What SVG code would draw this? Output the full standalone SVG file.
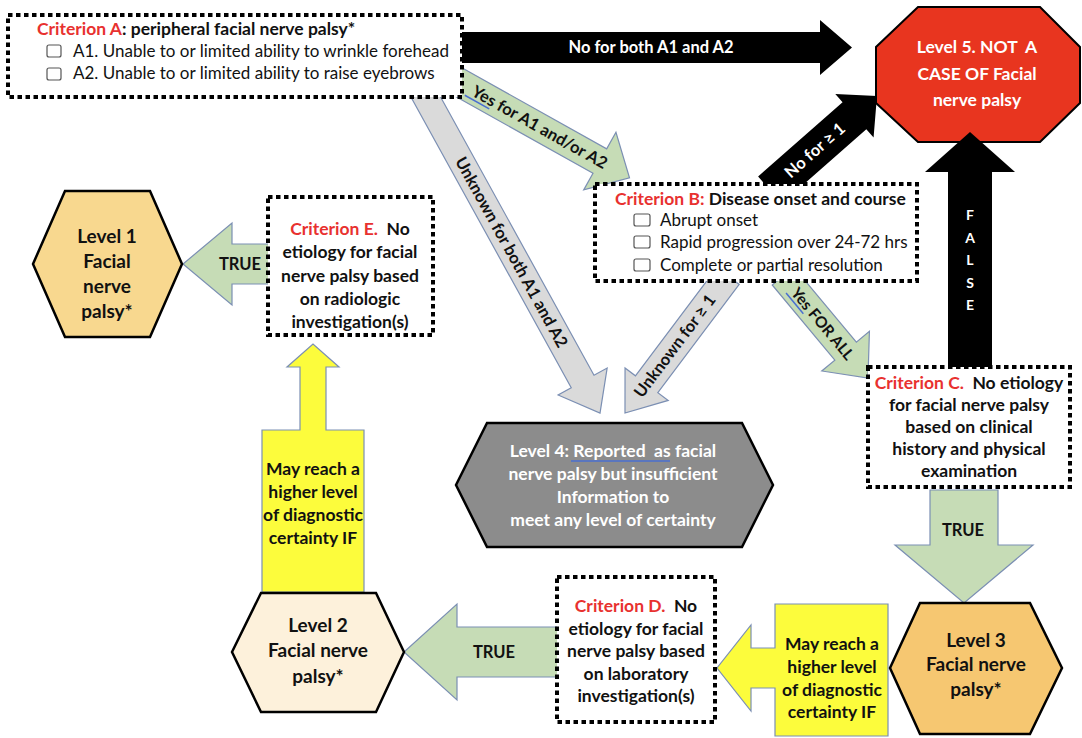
<svg xmlns="http://www.w3.org/2000/svg" width="1082" height="738" viewBox="0 0 1082 738">
<style>
text { font-family: Lato, "Liberation Sans", "DejaVu Sans", sans-serif; fill: #111; white-space: pre; }
.b { font-weight: bold; }
.c { text-anchor: middle; }
.w { fill: #fff; }
.red { fill: #e8312f; }
.box { fill: #fff; stroke: #000; stroke-width: 4; stroke-dasharray: 4.5 3.5; }
.cb { fill: #fff; stroke: #555; stroke-width: 1.2; }
.green { fill: #c6dcb6; stroke: #7b8fb3; stroke-width: 1.2; }
.grey { fill: #dadada; stroke: #7b8fb3; stroke-width: 1.2; }
.yel { fill: #fcfc3c; stroke: #7b8fb3; stroke-width: 1.2; }
.blk { fill: #000; }
.hex { stroke: #000; stroke-width: 2.5; }
.ul { stroke: #4a6fd0; stroke-width: 1.5; }
.y18 { font-size: 17.5px; }
.n17 { font-size: 17.5px; }
.r17 { font-size: 17px; }
.lv { font-size: 19px; }
.lbl { font-size: 16.5px; }
.f { font-size: 14px; }
</style>

<g id="level5">
  <polygon points="918,7 1040,7 1080,47 1080,103 1040,142 918,142 876,103 876,47" fill="#e8351f" stroke="#000" stroke-width="2"/>
  <text class="b c w" x="977" y="53" font-size="17.5">Level 5. NOT  A</text>
  <text class="b c w" x="977" y="80" font-size="17.5">CASE OF Facial</text>
  <text class="b c w" x="977" y="106" font-size="17.5">nerve palsy</text>
</g>

<g id="connectors">
  <g id="arrow-A-L5" transform="translate(462,47.5)">
    <polygon class="blk" points="0,-15.5 358,-15.5 358,-27.5 390,0 358,27.5 358,15.5 0,15.5"/>
    <text class="b c w lbl" x="189" y="5.5">No for both A1 and A2</text>
  </g>
  <g id="arrow-A-B" transform="translate(455,80) rotate(29.25)">
    <polygon class="green" points="0,-14 166,-14 166,-33 200,0 166,33 166,14 0,14"/>
    <text class="b c lbl" x="97" y="5.5">Yes for A1 and/or A2</text>
    <line class="ul" x1="16" y1="8.5" x2="44" y2="8.5"/>
  </g>
  <g id="arrow-A-L4" transform="translate(423,92) rotate(61.13)">
    <polygon class="grey" points="0,-13 330.6,-13 330.6,-28 366.6,0 330.6,28 330.6,13 0,13"/>
    <text class="b c lbl" x="183" y="5.5">Unknown for both A1 and A2</text>
  </g>
  <g id="arrow-B-L5" transform="translate(770,190) rotate(-41.3)">
    <polygon class="blk" points="0,-18 112.4,-18 112.4,-29 142.4,0 112.4,29 112.4,18 0,18"/>
    <text class="b c w lbl" x="60" y="5.5">No for ≥ 1</text>
  </g>
  <g id="arrow-C-L5">
    <polygon class="blk" points="948,372 948,172 925,172 970,132 1015,172 992,172 992,372"/>
    <text class="b c w f" x="970" y="220">F</text>
    <text class="b c w f" x="970" y="242.5">A</text>
    <text class="b c w f" x="970" y="265">L</text>
    <text class="b c w f" x="970" y="287.5">S</text>
    <text class="b c w f" x="970" y="310">E</text>
  </g>
  <g id="arrow-B-L4">
    <polygon class="grey" transform="translate(728,276) rotate(126.94)" points="0,-14 135.4,-14 135.4,-27 171.4,0 135.4,27 135.4,14 0,14"/>
    <text class="b c lbl" transform="translate(675,346) rotate(-53.06)" x="0" y="5.5">Unknown for ≥ 1</text>
  </g>
  <g id="arrow-B-C" transform="translate(783,276) rotate(50.2)">
    <polygon class="green" points="0,-14 97.8,-14 97.8,-31 132.8,0 97.8,31 97.8,14 0,14"/>
    <text class="b c" font-size="15.5" x="62" y="5.5">Yes FOR ALL</text>
    <line class="ul" x1="15" y1="8.5" x2="42" y2="8.5"/>
  </g>
  <g id="arrow-E-L1">
    <polygon class="green" points="272,244 232,244 232,223 183,264 232,305 232,284 272,284"/>
    <text class="b c lbl" x="240" y="270">TRUE</text>
  </g>
  <g id="arrow-D-L2">
    <polygon class="green" points="560,627 457,627 457,604 404,652 457,700 457,677 560,677"/>
    <text class="b c lbl" x="494" y="658">TRUE</text>
  </g>
  <g id="arrow-C-L3">
    <polygon class="green" points="930,490 998,490 998,545 1033,545 964,603 895,545 930,545"/>
    <text class="b c lbl" x="963" y="536">TRUE</text>
  </g>
  <g id="arrow-L2-E">
    <polygon class="yel" points="262,592 262,430 300,430 300,367 287,367 313,344 339,367 326,367 326,430 364,430 364,592"/>
    <text class="b c y18" x="313" y="475">May reach a</text>
    <text class="b c y18" x="313" y="498">higher level</text>
    <text class="b c y18" x="313" y="521">of diagnostic</text>
    <text class="b c y18" x="313" y="544">certainty IF</text>
  </g>
  <g id="arrow-L3-D">
    <polygon class="yel" points="888,604 775,604 775,648 751,648 751,625 717,668 751,711 751,688 775,688 775,736 888,736"/>
    <text class="b c y18" x="832" y="650">May reach a</text>
    <text class="b c y18" x="832" y="673">higher level</text>
    <text class="b c y18" x="832" y="696">of diagnostic</text>
    <text class="b c y18" x="832" y="718">certainty IF</text>
  </g>
</g>

<g id="criterionA">
  <rect class="box" x="8" y="15" width="454" height="82"/>
  <text class="b n17" x="37" y="35"><tspan class="red">Criterion A</tspan>: peripheral facial nerve palsy*</text>
  <rect class="cb" x="47" y="45" width="14" height="12" rx="2"/>
  <text class="r17" x="73" y="57">A1. Unable to or limited ability to wrinkle forehead</text>
  <rect class="cb" x="47" y="68" width="14" height="12" rx="2"/>
  <text class="r17" x="73" y="79">A2. Unable to or limited ability to raise eyebrows</text>
</g>

<g id="criterionB">
  <rect class="box" x="595" y="184" width="322" height="97"/>
  <text class="b n17" x="615" y="205"><tspan class="red">Criterion B:</tspan> Disease onset and course</text>
  <rect class="cb" x="634" y="214" width="16" height="12" rx="2"/>
  <text class="r17" x="660" y="226">Abrupt onset</text>
  <rect class="cb" x="634" y="236" width="16" height="12" rx="2"/>
  <text class="r17" x="660" y="248">Rapid progression over 24-72 hrs</text>
  <rect class="cb" x="634" y="259" width="16" height="12" rx="2"/>
  <text class="r17" x="660" y="271">Complete or partial resolution</text>
</g>

<g id="criterionC">
  <rect class="box" x="868" y="367" width="202" height="120"/>
  <text class="b c n17" x="969" y="389"><tspan class="red">Criterion C.</tspan>  No etiology</text>
  <text class="b c n17" x="969" y="411">for facial nerve palsy</text>
  <text class="b c n17" x="969" y="433">based on clinical</text>
  <text class="b c n17" x="969" y="455">history and physical</text>
  <text class="b c n17" x="969" y="477">examination</text>
</g>

<g id="criterionD">
  <rect class="box" x="557" y="577" width="158" height="145"/>
  <text class="b c n17" x="636" y="612"><tspan class="red">Criterion D.</tspan>  No</text>
  <text class="b c n17" x="636" y="635">etiology for facial</text>
  <text class="b c n17" x="636" y="657">nerve palsy based</text>
  <text class="b c n17" x="636" y="680">on laboratory</text>
  <text class="b c n17" x="636" y="702">investigation(s)</text>
</g>

<g id="criterionE">
  <rect class="box" x="268" y="197" width="165" height="138"/>
  <text class="b c n17" x="350" y="235"><tspan class="red">Criterion E.</tspan>  No</text>
  <text class="b c n17" x="350" y="258">etiology for facial</text>
  <text class="b c n17" x="350" y="282">nerve palsy based</text>
  <text class="b c n17" x="350" y="305">on radiologic</text>
  <text class="b c n17" x="350" y="328">investigation(s)</text>
</g>

<g id="level1">
  <polygon class="hex" fill="#f8d88f" points="33,264 65,191 150,191 182,264 150,337 65,337"/>
  <text class="b c lv" x="107" y="243">Level 1</text>
  <text class="b c lv" x="107" y="268">Facial</text>
  <text class="b c lv" x="107" y="293">nerve</text>
  <text class="b c lv" x="107" y="318">palsy*</text>
</g>

<g id="level2">
  <polygon class="hex" fill="#fdf1db" points="232,652 261,593 376,593 404,652 376,712 261,712"/>
  <text class="b c lv" x="318" y="632">Level 2</text>
  <text class="b c lv" x="318" y="657">Facial nerve</text>
  <text class="b c lv" x="318" y="683">palsy*</text>
</g>

<g id="level3">
  <polygon class="hex" fill="#f6c771" points="890,668 920,603 1030,603 1062,668 1030,734 920,734"/>
  <text class="b c lv" x="976" y="647">Level 3</text>
  <text class="b c lv" x="976" y="671">Facial nerve</text>
  <text class="b c lv" x="976" y="696">palsy*</text>
</g>

<g id="level4">
  <polygon class="hex" fill="#8c8c8c" points="456,485 487,423 742,423 773,485 742,547 487,547"/>
  <text class="b c w n17" x="613" y="457">Level 4: Reported  as facial</text>
  <text class="b c w n17" x="613" y="480">nerve palsy but insufficient</text>
  <text class="b c w n17" x="613" y="503">Information to</text>
  <text class="b c w n17" x="613" y="526">meet any level of certainty</text>
  <line class="ul" x1="571" y1="461" x2="670" y2="461"/>
</g>
</svg>
